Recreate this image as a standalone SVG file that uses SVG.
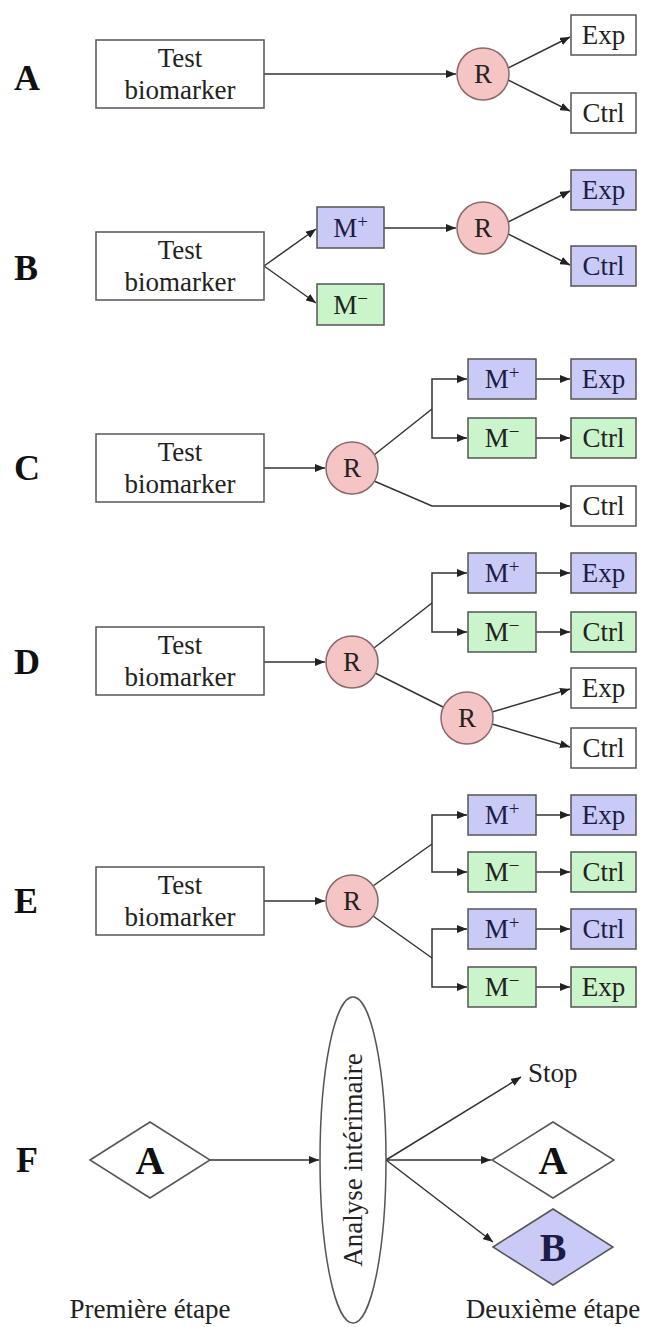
<svg xmlns="http://www.w3.org/2000/svg" width="648" height="1327" viewBox="0 0 648 1327">
<defs>
<style>
text{font-family:"Liberation Serif","Times New Roman",serif;font-size:27px;fill:#222;text-anchor:middle}
.lbl{font-size:36px;font-weight:bold;text-anchor:start;fill:#111}
.big{font-size:40px;font-weight:bold;fill:#111}
.sup{font-size:19px}
.nd rect,.nd polygon,.nd ellipse{stroke:#555;stroke-width:1.5}
.w{fill:#fff}
.b{fill:#cacaf6}
.g{fill:#caf4ca}
.nd .r{fill:#f5c4c4;stroke:#8a6a6a}
.b + text,.b ~ text{fill:#1c1c48}
.cn path{fill:none;stroke:#333;stroke-width:1.5}
.ar{marker-end:url(#ah)}
</style>
<marker id="ah" viewBox="0 0 10 8" refX="10" refY="4" markerWidth="10" markerHeight="8" markerUnits="userSpaceOnUse" orient="auto"><path d="M0,0 L10,4 L0,8 z" fill="#222"/></marker>
</defs>
<rect width="648" height="1327" fill="#fff" style="stroke:none"/>

<g id="connectors" class="cn">
<path class="ar" d="M264,74 L456,74"/>
<path class="ar" d="M508,68 L570,37"/>
<path class="ar" d="M508,80 L570,111"/>
<path class="ar" d="M264,266 L316,229"/>
<path class="ar" d="M264,266 L316,303"/>
<path class="ar" d="M384,228 L456,228"/>
<path class="ar" d="M508,222 L570,191"/>
<path class="ar" d="M508,234 L570,265"/>
<path class="ar" d="M264,468 L325,468"/>
<path d="M374,455 L432,409"/>
<path class="ar" d="M432,409 L432,379 L467,379"/>
<path class="ar" d="M432,409 L432,438 L467,438"/>
<path class="ar" d="M536,379 L570,379"/>
<path class="ar" d="M536,438 L570,438"/>
<path class="ar" d="M374,481 L432,506 L570,506"/>
<path class="ar" d="M264,662 L325,662"/>
<path d="M374,648 L432,603"/>
<path class="ar" d="M432,603 L432,573 L467,573"/>
<path class="ar" d="M432,603 L432,632 L467,632"/>
<path class="ar" d="M536,573 L570,573"/>
<path class="ar" d="M536,632 L570,632"/>
<path d="M375,673 L443,707"/>
<path class="ar" d="M492,712 L570,689"/>
<path class="ar" d="M492,724 L570,747"/>
<path class="ar" d="M264,901 L325,901"/>
<path d="M373,886 L432,844"/>
<path class="ar" d="M432,844 L432,815 L467,815"/>
<path class="ar" d="M432,844 L432,872 L467,872"/>
<path d="M373,916 L432,958"/>
<path class="ar" d="M432,958 L432,929 L467,929"/>
<path class="ar" d="M432,958 L432,987 L467,987"/>
<path class="ar" d="M536,815 L570,815"/>
<path class="ar" d="M536,872 L570,872"/>
<path class="ar" d="M536,929 L570,929"/>
<path class="ar" d="M536,987 L570,987"/>
<path class="ar" d="M210,1160 L319,1160"/>
<path class="ar" d="M386,1160 L521,1077"/>
<path class="ar" d="M386,1160 L491,1160"/>
<path class="ar" d="M386,1160 L493,1242"/>
</g>

<g class="nd">
<g id="labelA"><text class="lbl" x="14" y="90">A</text></g>
<g id="testA"><rect class="w" x="96" y="40" width="168" height="68"/><text x="180" y="67">Test</text><text x="180" y="99">biomarker</text></g>
<g id="rA"><ellipse class="r" cx="483" cy="74" rx="26" ry="26"/><text x="483" y="83">R</text></g>
<g id="expA"><rect class="w" x="571" y="15" width="65" height="40"/><text x="603.5" y="44">Exp</text></g>
<g id="ctrlA"><rect class="w" x="571" y="93" width="65" height="40"/><text x="603.5" y="122">Ctrl</text></g>

<g id="labelB"><text class="lbl" x="14" y="280">B</text></g>
<g id="testB"><rect class="w" x="96" y="232" width="168" height="68"/><text x="180" y="259">Test</text><text x="180" y="291">biomarker</text></g>
<g id="mpB"><rect class="b" x="317" y="207" width="67" height="41"/><text x="350.5" y="237">M<tspan class="sup" dy="-9">+</tspan></text></g>
<g id="mmB"><rect class="g" x="317" y="284" width="67" height="41"/><text x="350.5" y="314">M<tspan class="sup" dy="-9">−</tspan></text></g>
<g id="rB"><ellipse class="r" cx="483" cy="228" rx="26" ry="26"/><text x="483" y="237">R</text></g>
<g id="expB"><rect class="b" x="571" y="170" width="65" height="40"/><text x="603.5" y="199">Exp</text></g>
<g id="ctrlB"><rect class="b" x="571" y="246" width="65" height="40"/><text x="603.5" y="275">Ctrl</text></g>

<g id="labelC"><text class="lbl" x="14" y="480">C</text></g>
<g id="testC"><rect class="w" x="96" y="434" width="168" height="68"/><text x="180" y="461">Test</text><text x="180" y="493">biomarker</text></g>
<g id="rC"><ellipse class="r" cx="352" cy="468" rx="26" ry="26"/><text x="352" y="477">R</text></g>
<g id="mpC"><rect class="b" x="468" y="359" width="68" height="40"/><text x="502" y="388">M<tspan class="sup" dy="-9">+</tspan></text></g>
<g id="expC"><rect class="b" x="571" y="359" width="65" height="40"/><text x="603.5" y="388">Exp</text></g>
<g id="mmC"><rect class="g" x="468" y="418" width="68" height="40"/><text x="502" y="447">M<tspan class="sup" dy="-9">−</tspan></text></g>
<g id="ctrlC1"><rect class="g" x="571" y="418" width="65" height="40"/><text x="603.5" y="447">Ctrl</text></g>
<g id="ctrlC2"><rect class="w" x="571" y="486" width="65" height="40"/><text x="603.5" y="515">Ctrl</text></g>

<g id="labelD"><text class="lbl" x="14" y="674">D</text></g>
<g id="testD"><rect class="w" x="96" y="627" width="168" height="68"/><text x="180" y="654">Test</text><text x="180" y="686">biomarker</text></g>
<g id="rD"><ellipse class="r" cx="352" cy="662" rx="26" ry="26"/><text x="352" y="671">R</text></g>
<g id="mpD"><rect class="b" x="468" y="553" width="68" height="40"/><text x="502" y="582">M<tspan class="sup" dy="-9">+</tspan></text></g>
<g id="expD"><rect class="b" x="571" y="553" width="65" height="40"/><text x="603.5" y="582">Exp</text></g>
<g id="mmD"><rect class="g" x="468" y="612" width="68" height="40"/><text x="502" y="641">M<tspan class="sup" dy="-9">−</tspan></text></g>
<g id="ctrlD1"><rect class="g" x="571" y="612" width="65" height="40"/><text x="603.5" y="641">Ctrl</text></g>
<g id="rD2"><ellipse class="r" cx="467" cy="718" rx="26" ry="26"/><text x="467" y="727">R</text></g>
<g id="expD2"><rect class="w" x="571" y="668" width="65" height="40"/><text x="603.5" y="697">Exp</text></g>
<g id="ctrlD2"><rect class="w" x="571" y="728" width="65" height="40"/><text x="603.5" y="757">Ctrl</text></g>

<g id="labelE"><text class="lbl" x="14" y="913">E</text></g>
<g id="testE"><rect class="w" x="96" y="867" width="168" height="68"/><text x="180" y="894">Test</text><text x="180" y="926">biomarker</text></g>
<g id="rE"><ellipse class="r" cx="352" cy="901" rx="26" ry="26"/><text x="352" y="910">R</text></g>
<g id="mpE1"><rect class="b" x="468" y="795" width="68" height="40"/><text x="502" y="824">M<tspan class="sup" dy="-9">+</tspan></text></g>
<g id="expE1"><rect class="b" x="571" y="795" width="65" height="40"/><text x="603.5" y="824">Exp</text></g>
<g id="mmE1"><rect class="g" x="468" y="852" width="68" height="40"/><text x="502" y="881">M<tspan class="sup" dy="-9">−</tspan></text></g>
<g id="ctrlE1"><rect class="g" x="571" y="852" width="65" height="40"/><text x="603.5" y="881">Ctrl</text></g>
<g id="mpE2"><rect class="b" x="468" y="909" width="68" height="40"/><text x="502" y="938">M<tspan class="sup" dy="-9">+</tspan></text></g>
<g id="ctrlE2"><rect class="b" x="571" y="909" width="65" height="40"/><text x="603.5" y="938">Ctrl</text></g>
<g id="mmE2"><rect class="g" x="468" y="967" width="68" height="40"/><text x="502" y="996">M<tspan class="sup" dy="-9">−</tspan></text></g>
<g id="expE2"><rect class="g" x="571" y="967" width="65" height="40"/><text x="603.5" y="996">Exp</text></g>

<g id="labelF"><text class="lbl" x="16" y="1172">F</text></g>
<g id="diamondA1"><polygon class="w" points="90,1160 150,1122 210,1160 150,1198"/><text class="big" x="150" y="1174">A</text></g>
<g id="interim"><ellipse class="w" cx="353" cy="1160" rx="33" ry="163"/><text transform="translate(362,1160) rotate(-90)" x="0" y="0">Analyse intérimaire</text></g>
<g id="stop"><text x="528" y="1082" style="text-anchor:start">Stop</text></g>
<g id="diamondA2"><polygon class="w" points="492,1160 553,1122 614,1160 553,1198"/><text class="big" x="553" y="1174">A</text></g>
<g id="diamondB"><polygon class="b" points="493,1247 553,1209 613,1247 553,1285"/><text class="big" x="553" y="1261">B</text></g>
<g id="caption1"><text x="150" y="1318">Première étape</text></g>
<g id="caption2"><text x="553" y="1318">Deuxième étape</text></g>
</g>
</svg>
